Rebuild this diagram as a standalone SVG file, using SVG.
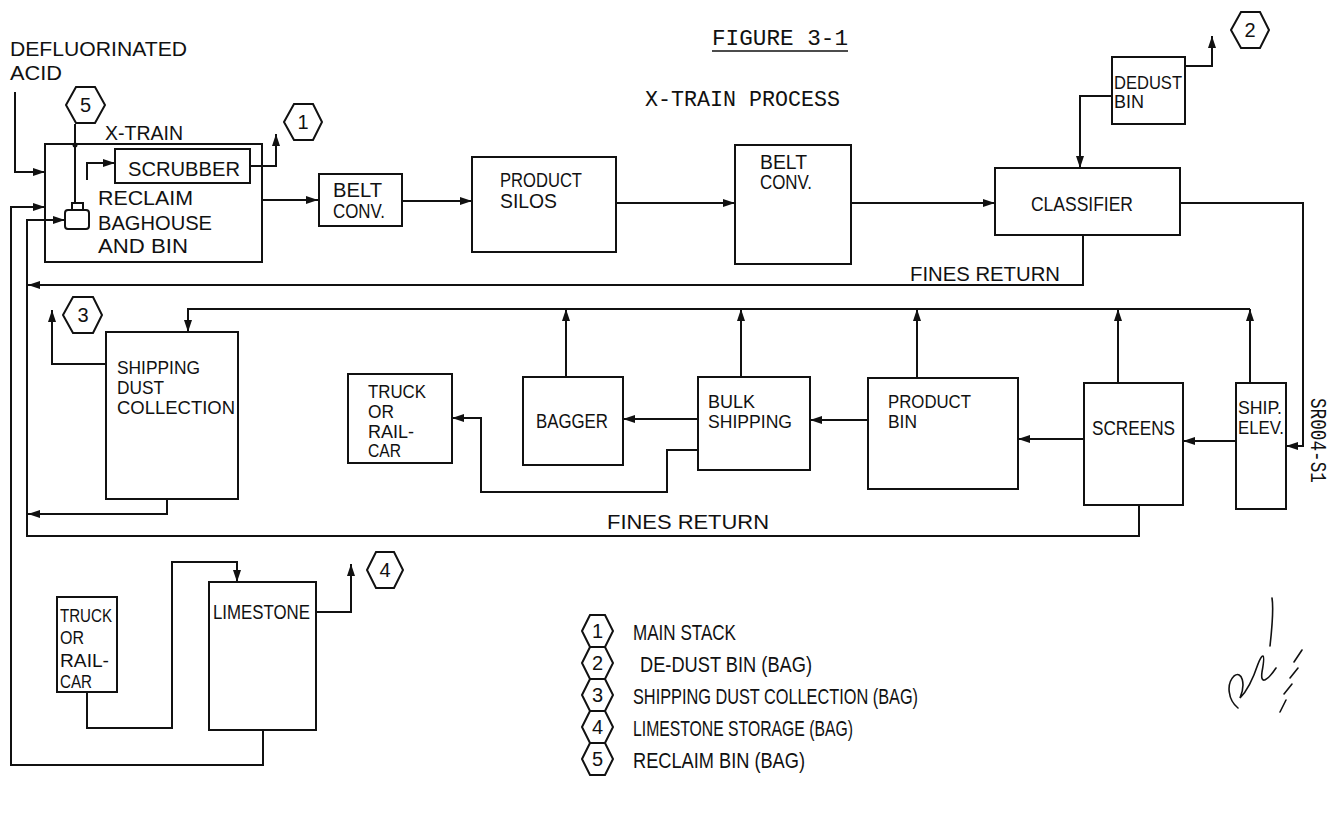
<svg xmlns="http://www.w3.org/2000/svg" width="1327" height="818" viewBox="0 0 1327 818">
<defs>
<style>
.bx{fill:none;stroke:#111;stroke-width:2}
.ln{fill:none;stroke:#111;stroke-width:2}
.ar{fill:none;stroke:#111;stroke-width:2;marker-end:url(#ah)}
.hx{fill:#fff;stroke:#111;stroke-width:2}
.t{font-family:"Liberation Sans",Arial,sans-serif;font-size:20px;fill:#111}
.s{font-family:"Liberation Sans",Arial,sans-serif;font-size:18px;fill:#111}
.lg{font-family:"Liberation Sans",Arial,sans-serif;font-size:22px;fill:#111}
.h{font-family:"Liberation Sans",Arial,sans-serif;font-size:20px;fill:#111;text-anchor:middle}
.m{font-family:"Liberation Mono","Courier New",monospace;font-size:22px;fill:#111}
</style>
<marker id="ah" viewBox="0 0 12 8" refX="12" refY="4" markerWidth="12" markerHeight="8" markerUnits="userSpaceOnUse" orient="auto">
<path d="M0,0 L12,4 L0,8 z" fill="#111"/>
</marker>
</defs>
<rect width="1327" height="818" fill="#fff"/>

<g id="title">
<text class="m" x="712" y="45" textLength="136" lengthAdjust="spacingAndGlyphs">FIGURE 3-1</text>
<line x1="712" y1="51" x2="848" y2="51" stroke="#111" stroke-width="1.5"/>
<text class="m" x="645" y="106" textLength="195" lengthAdjust="spacingAndGlyphs">X-TRAIN PROCESS</text>
</g>

<g id="defluorinated-acid">
<text class="t" x="10" y="56" font-size="23" textLength="177" lengthAdjust="spacingAndGlyphs">DEFLUORINATED</text>
<text class="t" x="10" y="80" font-size="23" textLength="52" lengthAdjust="spacingAndGlyphs">ACID</text>
</g>

<g id="connectors">
<path class="ar" d="M15,92 V172 H45"/>
<path class="ar" d="M263,730 V765 H11 V207 H45"/>
<path class="ar" d="M1139,505 V536 H27 V220 H65"/>
<path class="ar" d="M1083,235 V285 H28"/>
<path class="ar" d="M167,499 V514 H28"/>
<path class="ln" d="M75,124 V203"/>
<circle cx="75" cy="145" r="2.5" fill="#111"/>
<path class="ar" d="M87,180 V163 H115"/>
<path class="ar" d="M250,166 H276 V134"/>
<path class="ar" d="M262,200 H318"/>
<path class="ar" d="M402,201 H472"/>
<path class="ar" d="M616,203 H735"/>
<path class="ar" d="M851,203 H995"/>
<path class="ar" d="M1112,96 H1080 V168"/>
<path class="ar" d="M1185,66 H1212 V36"/>
<path class="ar" d="M1180,203 H1303 V446 H1286"/>
<path class="ar" d="M1250,383 V309"/>
<path class="ar" d="M1250,309 H188 V332"/>
<path class="ar" d="M1118,383 V309"/>
<path class="ar" d="M917,378 V309"/>
<path class="ar" d="M741,377 V309"/>
<path class="ar" d="M566,377 V309"/>
<path class="ar" d="M1236,441 H1183"/>
<path class="ar" d="M1084,439 H1018"/>
<path class="ar" d="M868,420 H810"/>
<path class="ar" d="M698,419 H623"/>
<path class="ar" d="M698,450 H667 V492 H481 V418 H452"/>
<path class="ar" d="M106,364 H52 V310"/>
<path class="ar" d="M87,692 V728 H172 V562 H237 V582"/>
<path class="ar" d="M316,612 H351 V564"/>
<text class="t" x="910" y="281" textLength="150" lengthAdjust="spacingAndGlyphs">FINES RETURN</text>
<text class="t" x="607" y="529" textLength="162" lengthAdjust="spacingAndGlyphs">FINES RETURN</text>
</g>

<g id="hex5">
<polygon class="hx" points="66,105 76,87 95,87 105,105 95,123 76,123"/>
<text class="h" x="85.5" y="112">5</text>
</g>
<g id="hex1">
<polygon class="hx" points="284,122 294,104 313,104 322,122 313,140 294,140"/>
<text class="h" x="303" y="129">1</text>
</g>
<g id="hex2">
<polygon class="hx" points="1231,30 1241,12 1260,12 1269,30 1260,48 1241,48"/>
<text class="h" x="1250" y="37">2</text>
</g>
<g id="hex3">
<polygon class="hx" points="63,315 73,297 93,297 102,315 93,333 73,333"/>
<text class="h" x="83" y="322">3</text>
</g>
<g id="hex4">
<polygon class="hx" points="367,570 376,552 394,552 403,570 394,588 376,588"/>
<text class="h" x="385" y="577">4</text>
</g>

<g id="reclaim-baghouse">
<rect class="bx" x="45" y="144" width="217" height="118"/>
<text class="t" x="105" y="140" textLength="78" lengthAdjust="spacingAndGlyphs">X-TRAIN</text>
<rect class="bx" x="65" y="210" width="24" height="19" rx="3"/>
<rect class="bx" x="72" y="203" width="11" height="7"/>
<text class="t" x="98" y="205" font-size="22" textLength="95" lengthAdjust="spacingAndGlyphs">RECLAIM</text>
<text class="t" x="98" y="230" font-size="22" textLength="114" lengthAdjust="spacingAndGlyphs">BAGHOUSE</text>
<text class="t" x="98" y="253" font-size="22" textLength="90" lengthAdjust="spacingAndGlyphs">AND BIN</text>
</g>
<g id="scrubber">
<rect class="bx" x="115" y="149" width="135" height="34"/>
<text class="t" x="128" y="176" font-size="23" textLength="112" lengthAdjust="spacingAndGlyphs">SCRUBBER</text>
</g>
<g id="belt-conv-1">
<rect class="bx" x="319" y="174" width="83" height="52"/>
<text class="t" x="333" y="197" textLength="49" lengthAdjust="spacingAndGlyphs">BELT</text>
<text class="t" x="333" y="218" textLength="52" lengthAdjust="spacingAndGlyphs">CONV.</text>
</g>
<g id="product-silos">
<rect class="bx" x="472" y="157" width="144" height="95"/>
<text class="t" x="500" y="187" textLength="82" lengthAdjust="spacingAndGlyphs">PRODUCT</text>
<text class="t" x="500" y="208" textLength="57" lengthAdjust="spacingAndGlyphs">SILOS</text>
</g>
<g id="belt-conv-2">
<rect class="bx" x="735" y="145" width="116" height="119"/>
<text class="t" x="760" y="169" textLength="47" lengthAdjust="spacingAndGlyphs">BELT</text>
<text class="t" x="760" y="189" textLength="52" lengthAdjust="spacingAndGlyphs">CONV.</text>
</g>
<g id="classifier">
<rect class="bx" x="995" y="168" width="185" height="67"/>
<text class="t" x="1031" y="211" textLength="102" lengthAdjust="spacingAndGlyphs">CLASSIFIER</text>
</g>
<g id="dedust-bin">
<rect class="bx" x="1112" y="57" width="73" height="67"/>
<text class="s" x="1114" y="89" textLength="68" lengthAdjust="spacingAndGlyphs">DEDUST</text>
<text class="s" x="1114" y="108" textLength="30" lengthAdjust="spacingAndGlyphs">BIN</text>
</g>

<g id="shipping-dust-collection">
<rect class="bx" x="106" y="332" width="132" height="167"/>
<text class="s" x="117" y="374" textLength="83" lengthAdjust="spacingAndGlyphs">SHIPPING</text>
<text class="s" x="117" y="394" textLength="47" lengthAdjust="spacingAndGlyphs">DUST</text>
<text class="s" x="117" y="414" textLength="118" lengthAdjust="spacingAndGlyphs">COLLECTION</text>
</g>
<g id="truck-rail-car-1">
<rect class="bx" x="348" y="374" width="104" height="89"/>
<text class="s" x="368" y="398" textLength="58" lengthAdjust="spacingAndGlyphs">TRUCK</text>
<text class="s" x="368" y="418" textLength="26" lengthAdjust="spacingAndGlyphs">OR</text>
<text class="s" x="368" y="438" textLength="46" lengthAdjust="spacingAndGlyphs">RAIL-</text>
<text class="s" x="368" y="457" textLength="33" lengthAdjust="spacingAndGlyphs">CAR</text>
</g>
<g id="bagger">
<rect class="bx" x="523" y="377" width="100" height="88"/>
<text class="t" x="536" y="428" textLength="72" lengthAdjust="spacingAndGlyphs">BAGGER</text>
</g>
<g id="bulk-shipping">
<rect class="bx" x="698" y="377" width="112" height="93"/>
<text class="s" x="708" y="408" textLength="47" lengthAdjust="spacingAndGlyphs">BULK</text>
<text class="s" x="708" y="428" textLength="84" lengthAdjust="spacingAndGlyphs">SHIPPING</text>
</g>
<g id="product-bin">
<rect class="bx" x="868" y="378" width="150" height="111"/>
<text class="s" x="888" y="408" textLength="83" lengthAdjust="spacingAndGlyphs">PRODUCT</text>
<text class="s" x="888" y="428" textLength="29" lengthAdjust="spacingAndGlyphs">BIN</text>
</g>
<g id="screens">
<rect class="bx" x="1084" y="383" width="99" height="122"/>
<text class="t" x="1092" y="435" textLength="83" lengthAdjust="spacingAndGlyphs">SCREENS</text>
</g>
<g id="ship-elev">
<rect class="bx" x="1236" y="383" width="50" height="126"/>
<text class="s" x="1238" y="414" textLength="44" lengthAdjust="spacingAndGlyphs">SHIP.</text>
<text class="s" x="1238" y="434" textLength="46" lengthAdjust="spacingAndGlyphs">ELEV.</text>
</g>

<g id="truck-rail-car-2">
<rect class="bx" x="57" y="597" width="60" height="95"/>
<text class="s" x="60" y="622" textLength="52" lengthAdjust="spacingAndGlyphs">TRUCK</text>
<text class="s" x="60" y="644" textLength="24" lengthAdjust="spacingAndGlyphs">OR</text>
<text class="s" x="60" y="667" textLength="49" lengthAdjust="spacingAndGlyphs">RAIL-</text>
<text class="s" x="60" y="688" textLength="32" lengthAdjust="spacingAndGlyphs">CAR</text>
</g>
<g id="limestone">
<rect class="bx" x="209" y="582" width="107" height="148"/>
<text class="t" x="213" y="619" textLength="97" lengthAdjust="spacingAndGlyphs">LIMESTONE</text>
</g>

<g id="legend">
<polygon class="hx" points="582,631 590,615 605,615 613,631 605,647 590,647"/>
<text class="h" x="597.5" y="638">1</text>
<text class="lg" x="633" y="640" textLength="103" lengthAdjust="spacingAndGlyphs">MAIN STACK</text>
<polygon class="hx" points="582,663 590,647 605,647 613,663 605,679 590,679"/>
<text class="h" x="597.5" y="670">2</text>
<text class="lg" x="640" y="672" textLength="172" lengthAdjust="spacingAndGlyphs">DE-DUST BIN (BAG)</text>
<polygon class="hx" points="582,695 590,679 605,679 613,695 605,711 590,711"/>
<text class="h" x="597.5" y="702">3</text>
<text class="lg" x="633" y="704" textLength="285" lengthAdjust="spacingAndGlyphs">SHIPPING DUST COLLECTION (BAG)</text>
<polygon class="hx" points="582,727 590,711 605,711 613,727 605,743 590,743"/>
<text class="h" x="597.5" y="734">4</text>
<text class="lg" x="633" y="736" textLength="220" lengthAdjust="spacingAndGlyphs">LIMESTONE STORAGE (BAG)</text>
<polygon class="hx" points="582,759 590,743 605,743 613,759 605,775 590,775"/>
<text class="h" x="597.5" y="766">5</text>
<text class="lg" x="633" y="768" textLength="172" lengthAdjust="spacingAndGlyphs">RECLAIM BIN (BAG)</text>
</g>

<g id="drawing-number">
<text class="m" x="0" y="0" font-size="18" transform="translate(1311,398) rotate(90)" textLength="85" lengthAdjust="spacingAndGlyphs">SR004-S1</text>
</g>

<g id="signature" fill="none" stroke="#111" stroke-width="1.6" stroke-linecap="round">
<path d="M1238,708 C1228,700 1226,684 1234,676 C1242,670 1246,684 1240,698 C1248,690 1254,676 1258,664 C1262,654 1266,650 1262,672 C1260,686 1268,680 1276,668 M1270,646 C1272,628 1274,610 1272,598"/>
<path d="M1280,712 L1286,700 M1284,694 L1292,684 M1290,678 L1298,668 M1294,662 L1302,650"/>
</g>
</svg>
